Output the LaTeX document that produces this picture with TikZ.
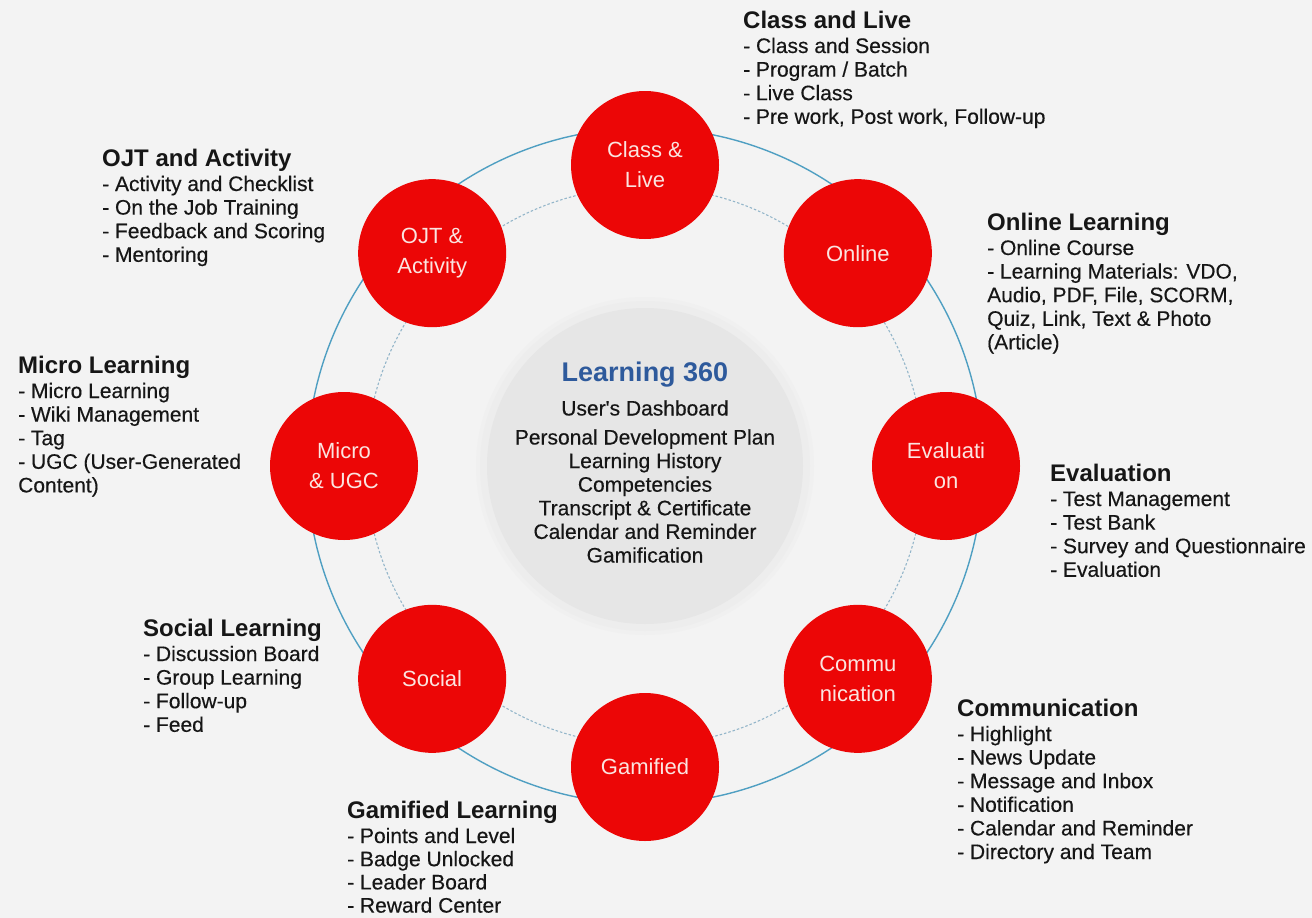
\documentclass[tikz,border=0pt]{standalone}
\usepackage{fontspec}
\setmainfont{Liberation Sans}
\newfontfamily\itemfont{Liberation Sans}[FakeBold=0.35]
\definecolor{bg}{HTML}{F3F3F3}
\definecolor{hubgray}{HTML}{E6E6E6}
\definecolor{hubhaloA}{HTML}{EDEDED}
\definecolor{hubhaloB}{HTML}{F0F0F0}
\definecolor{ringblue}{HTML}{4F9FC2}
\definecolor{ringdot}{HTML}{94B6CA}
\definecolor{redfill}{HTML}{EC0606}
\definecolor{lbl}{HTML}{FBE4E0}
\definecolor{titleblue}{HTML}{2E5A9C}
\definecolor{ink}{HTML}{161616}
\tikzset{
  module/.style={circle, fill=redfill, minimum size=148pt, inner sep=0pt, text=lbl,
    font=\fontsize{22}{30}\selectfont, align=center},
  head/.style={anchor=base west, inner sep=0pt, font=\fontsize{24}{28}\selectfont\bfseries, text=ink},
  item/.style={anchor=base west, inner sep=0pt, font=\itemfont\fontsize{21}{24}\selectfont, text=ink},
  hubdisc/.style={circle, fill=hubgray, minimum size=316pt, inner sep=0pt},
  hubtitle/.style={anchor=base, inner sep=0pt, font=\fontsize{27}{30}\selectfont\bfseries, text=titleblue},
  hubtext/.style={anchor=base, inner sep=0pt, font=\itemfont\fontsize{21}{24}\selectfont, text=ink},
  outerring/.style={draw=ringblue, line width=1.4pt},
  innerring/.style={draw=ringdot, line width=1.1pt, dash pattern=on 2.5pt off 2pt},
}
\newcommand\infoblk[6]{%
  \node[head] (#1h) at (#2,{-(#3+8.6)}) {#4};
  \foreach \t [count=\i] in {#6}{%
    \node[item] (#1\i) at (#2,{-(#3+33+#5*(\i-1))}) {\t};}%
}
\begin{document}
\begin{tikzpicture}[x=1pt,y=1pt]
\useasboundingbox (0,0) rectangle (1312,-918);
\fill[bg] (0,0) rectangle (1312,-918);
% hub
\fill[hubhaloB] (645,-466) circle[radius=169pt];
\fill[hubhaloA] (645,-466) circle[radius=165pt];
\node[hubdisc] (hub) at (645,-466) {};
% rings
\draw[outerring] (hub.center) circle[radius=338pt];
\draw[innerring] (hub.center) circle[radius=279pt];
% modules
\node[module] (cls) at ([shift={(90:301)}]hub.center) {Class \&\\Live};
\node[module] (onl) at ([shift={(45:301)}]hub.center) {Online};
\node[module] (eva) at ([shift={(0:301)}]hub.center) {Evaluati\\on};
\node[module] (com) at ([shift={(-45:301)}]hub.center) {Commu\\nication};
\node[module] (gam) at ([shift={(-90:301)}]hub.center) {Gamified};
\node[module] (soc) at ([shift={(-135:301)}]hub.center) {Social};
\node[module] (mic) at ([shift={(180:301)}]hub.center) {Micro\\\& UGC};
\node[module] (ojt) at ([shift={(135:301)}]hub.center) {OJT \&\\Activity};
% hub text
\node[hubtitle] (httl) at (645,-381.5) {Learning 360};
\foreach \t/\yy [count=\i] in {{User's Dashboard}/415.5,{Personal Development Plan}/444.5,
  {Learning History}/468.1,{Competencies}/491.7,{Transcript \& Certificate}/515.3,
  {Calendar and Reminder}/538.9,{Gamification}/562.5}{%
  \node[hubtext] (hl\i) at (645,-\yy) {\t};}
% info blocks
\infoblk{cl}{743}{20}{Class and Live}{23.6}{{- Class and Session},{- Program {/} Batch},{- Live Class},{- Pre work, Post work, Follow-up}}
\infoblk{on}{987}{222}{Online Learning}{23.6}{{- Online Course},{- Learning Materials: VDO,},{Audio, PDF, File, SCORM,},{Quiz, Link, Text \& Photo},{(Article)}}
\infoblk{ev}{1050}{473}{Evaluation}{23.6}{{- Test Management},{- Test Bank},{- Survey and Questionnaire},{- Evaluation}}
\infoblk{co}{957}{708}{Communication}{23.6}{{- Highlight},{- News Update},{- Message and Inbox},{- Notification},{- Calendar and Reminder},{- Directory and Team}}
\infoblk{ga}{347}{810}{Gamified Learning}{23.2}{{- Points and Level},{- Badge Unlocked},{- Leader Board},{- Reward Center}}
\infoblk{so}{143}{628}{Social Learning}{23.6}{{- Discussion Board},{- Group Learning},{- Follow-up},{- Feed}}
\infoblk{mi}{18}{365}{Micro Learning}{23.6}{{- Micro Learning},{- Wiki Management},{- Tag},{- UGC (User-Generated},{Content)}}
\infoblk{oj}{102}{158}{OJT and Activity}{23.6}{{- Activity and Checklist},{- On the Job Training},{- Feedback and Scoring},{- Mentoring}}
\end{tikzpicture}
\end{document}
